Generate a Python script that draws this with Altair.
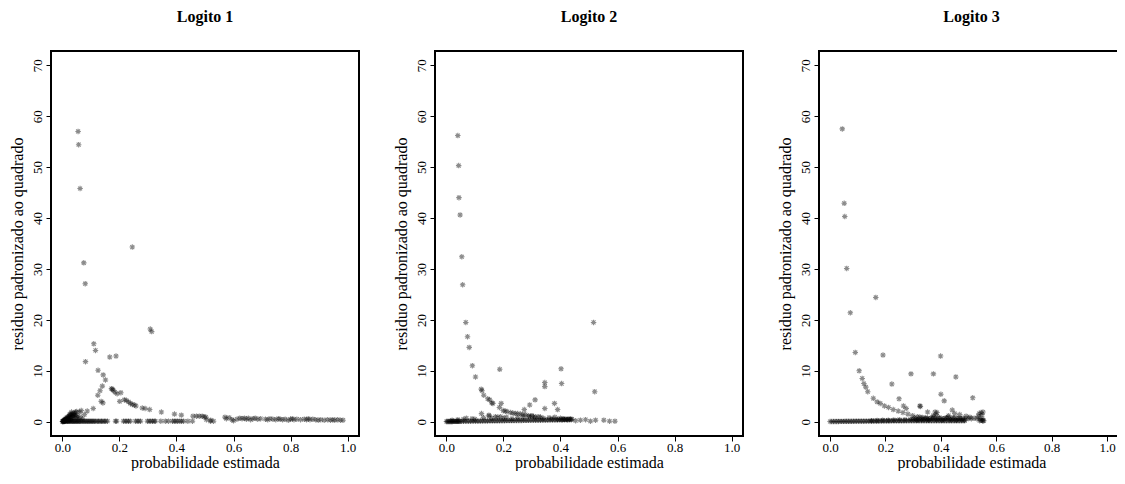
import altair as alt
import pandas as pd

# ---------------- Panel 1 (Logito 1) ----------------
p1_x = [
    # isolated large residuals
    0.055, 0.057, 0.062, 0.075, 0.080, 0.245, 0.308, 0.313,
    0.110, 0.116, 0.081, 0.166, 0.188, 0.125, 0.143, 0.151, 0.140, 0.132, 0.124, 0.136, 0.142,
    # descending curve
    0.172, 0.175, 0.178, 0.184, 0.192, 0.205, 0.201, 0.217, 0.224, 0.232, 0.238, 0.245, 0.252, 0.258,
    0.280, 0.290, 0.306, 0.347, 0.393, 0.417, 0.458, 0.470, 0.480, 0.490, 0.497, 0.503, 0.505, 0.520,
    # fan near origin
    0.108, 0.087, 0.077, 0.066, 0.060, 0.050, 0.046, 0.042, 0.038, 0.034, 0.030, 0.027, 0.024, 0.021,
    0.018, 0.015, 0.012, 0.010, 0.008, 0.006, 0.004, 0.002, 0.035, 0.028, 0.020, 0.045, 0.052, 0.040,
    0.030, 0.025, 0.015, 0.010, 0.005, 0.055, 0.048, 0.032, 0.026, 0.062, 0.070, 0.008, 0.001, 0.003,
    0.013, 0.017, 0.022, 0.037, 0.043, 0.011, 0.019, 0.033,
    # zero line
    0.000, 0.003, 0.006, 0.009, 0.012, 0.015, 0.018, 0.021, 0.024, 0.027, 0.030, 0.033, 0.036, 0.039,
    0.042, 0.045, 0.048, 0.051, 0.054, 0.057, 0.060, 0.064, 0.068, 0.072, 0.076, 0.080, 0.084, 0.088,
    0.092, 0.096, 0.100, 0.104, 0.108, 0.112, 0.117, 0.122, 0.127, 0.132, 0.137, 0.142, 0.147, 0.152,
    0.158, 0.186, 0.190, 0.214, 0.220, 0.226, 0.232, 0.238, 0.256, 0.262, 0.268, 0.274, 0.298, 0.304,
    0.310, 0.316, 0.322, 0.326, 0.345, 0.361, 0.372, 0.386, 0.392, 0.398, 0.404, 0.412, 0.418, 0.425,
    0.440, 0.456, 0.519, 0.530,
    # right cluster
    0.570, 0.575, 0.585, 0.595, 0.600, 0.612, 0.622, 0.630, 0.638, 0.645, 0.652, 0.660, 0.668, 0.676,
    0.685, 0.695, 0.712, 0.720, 0.728, 0.738, 0.748, 0.757, 0.763, 0.772, 0.781, 0.792, 0.800, 0.806,
    0.812, 0.822, 0.835, 0.848, 0.856, 0.862, 0.868, 0.878, 0.888, 0.897, 0.906, 0.918, 0.930, 0.940,
    0.948, 0.955, 0.965, 0.975, 0.984,
]
p1_y = [
    57.0, 54.4, 45.8, 31.2, 27.1, 34.3, 18.2, 17.7,
    15.3, 14.0, 11.8, 12.7, 12.9, 10.1, 9.2, 8.2, 7.0, 6.1, 5.2, 4.0, 3.7,
    6.5, 6.4, 6.2, 5.8, 5.5, 5.7, 4.0, 4.3, 4.2, 3.9, 3.6, 3.4, 3.3, 3.1,
    2.7, 2.6, 2.4, 1.9, 1.5, 1.3, 1.1, 1.1, 1.1, 1.1, 1.0, 0.9, 0.4, 0.3,
    2.6, 2.1, 1.4, 2.2, 1.9, 2.0, 1.9, 1.7, 1.6, 1.5, 1.4, 1.3, 1.1, 1.0,
    0.9, 0.8, 0.6, 0.5, 0.4, 0.3, 0.2, 0.1, 1.0, 0.8, 0.6, 1.2, 1.1, 0.7,
    0.5, 0.3, 0.3, 0.2, 0.1, 0.6, 0.9, 1.9, 1.5, 0.9, 0.6, 0.1, 0.05, 0.05,
    0.4, 0.5, 0.7, 1.2, 1.4, 0.3, 0.2, 0.8,
    0.05, 0.08, 0.06, 0.1, 0.08, 0.1, 0.07, 0.1, 0.09, 0.1, 0.08, 0.1, 0.09, 0.1,
    0.08, 0.1, 0.09, 0.1, 0.08, 0.1, 0.09, 0.1, 0.08, 0.1, 0.09, 0.1, 0.08, 0.1,
    0.09, 0.1, 0.08, 0.1, 0.09, 0.1, 0.08, 0.1, 0.09, 0.1, 0.08, 0.1, 0.09, 0.1,
    0.1, 0.1, 0.1, 0.1, 0.1, 0.1, 0.1, 0.1, 0.1, 0.1, 0.1, 0.1, 0.1, 0.1,
    0.1, 0.1, 0.1, 0.1, 0.1, 0.1, 0.1, 0.1, 0.1, 0.1, 0.1, 0.1, 0.1, 0.1,
    0.1, 0.1, 0.1, 0.1,
    0.9, 0.6, 0.8, 0.4, 0.2, 0.5, 0.7, 0.6, 0.7, 0.5, 0.7, 0.4, 0.6, 0.7,
    0.5, 0.6, 0.5, 0.4, 0.6, 0.5, 0.4, 0.6, 0.5, 0.4, 0.5, 0.3, 0.5, 0.6,
    0.4, 0.5, 0.4, 0.5, 0.4, 0.6, 0.4, 0.5, 0.4, 0.3, 0.4, 0.3, 0.4, 0.3,
    0.4, 0.3, 0.4, 0.3, 0.3,
]

# ---------------- Panel 2 (Logito 2) ----------------
p2_x = [
    0.040, 0.043, 0.044, 0.048, 0.054, 0.057, 0.068, 0.074, 0.080, 0.091, 0.102,
    0.187, 0.402, 0.404, 0.345, 0.345, 0.516, 0.520,
    # descending curve
    0.122, 0.125, 0.131, 0.145, 0.152, 0.159, 0.163, 0.186, 0.199, 0.206, 0.213, 0.225, 0.233,
    0.242, 0.250, 0.260, 0.268, 0.277, 0.288, 0.300, 0.312, 0.324,
    # scattered mid points
    0.192, 0.273, 0.292, 0.311, 0.345, 0.379, 0.390, 0.123, 0.149, 0.172,
    # upper band
    0.020, 0.040, 0.060, 0.070, 0.090, 0.100, 0.130, 0.150, 0.160, 0.180, 0.190, 0.200, 0.210,
    0.230, 0.250, 0.270, 0.290, 0.300, 0.310, 0.330, 0.340, 0.360, 0.370, 0.380, 0.390, 0.400,
    0.410, 0.420, 0.430, 0.440, 0.405, 0.415, 0.425, 0.435,
    # tail
    0.453, 0.470, 0.488, 0.505, 0.523, 0.552, 0.572, 0.591,
    # base line
    0.000, 0.006, 0.012, 0.018, 0.024, 0.030, 0.036, 0.042, 0.048, 0.054, 0.060, 0.066, 0.072,
    0.078, 0.084, 0.090, 0.096, 0.102, 0.108, 0.114, 0.120, 0.126, 0.132, 0.138, 0.144, 0.150,
    0.156, 0.162, 0.168, 0.174, 0.180, 0.186, 0.192, 0.198, 0.204, 0.210, 0.216, 0.222, 0.228,
    0.234, 0.240, 0.246, 0.252, 0.258, 0.264, 0.270, 0.276, 0.282, 0.288, 0.294, 0.300, 0.306,
    0.312, 0.318, 0.324, 0.330, 0.336, 0.342, 0.348, 0.354, 0.360, 0.366, 0.372, 0.378, 0.384,
    0.390, 0.396, 0.402, 0.408, 0.414, 0.420, 0.426, 0.432, 0.438, 0.003, 0.009, 0.015, 0.021,
    0.027, 0.033, 0.039, 0.045,
]
p2_y = [
    56.2, 50.3, 44.0, 40.6, 32.4, 26.9, 19.5, 16.7, 14.6, 11.0, 8.8,
    10.3, 10.4, 7.5, 7.7, 6.9, 19.5, 5.9,
    6.4, 6.1, 5.2, 4.5, 4.3, 3.7, 3.6, 2.8, 2.2, 2.1, 2.0, 1.8, 1.7,
    1.6, 1.6, 1.5, 1.4, 1.4, 1.2, 1.1, 1.0, 1.0,
    3.6, 2.4, 3.3, 4.3, 2.6, 3.6, 2.4, 1.6, 1.3, 1.0,
    0.3, 0.4, 0.5, 0.7, 0.6, 0.5, 0.8, 1.1, 0.7, 0.9, 1.0, 0.7, 0.9,
    0.6, 0.8, 0.9, 1.0, 1.2, 0.8, 0.9, 0.7, 0.8, 0.6, 0.9, 0.5, 0.7,
    0.6, 0.5, 0.6, 0.5, 0.4, 0.5, 0.4, 0.5,
    0.2, 0.3, 0.4, 0.1, 0.3, 0.3, 0.1, 0.1,
    0.05, 0.05, 0.06, 0.06, 0.07, 0.07, 0.08, 0.08, 0.09, 0.09, 0.1, 0.1, 0.1,
    0.11, 0.11, 0.12, 0.12, 0.13, 0.13, 0.14, 0.14, 0.15, 0.15, 0.16, 0.16, 0.17,
    0.17, 0.18, 0.18, 0.19, 0.19, 0.2, 0.2, 0.21, 0.21, 0.22, 0.22, 0.23, 0.23,
    0.24, 0.24, 0.25, 0.25, 0.26, 0.26, 0.27, 0.27, 0.28, 0.28, 0.29, 0.29, 0.3,
    0.3, 0.3, 0.31, 0.31, 0.32, 0.32, 0.33, 0.33, 0.34, 0.34, 0.35, 0.35, 0.36,
    0.36, 0.37, 0.37, 0.38, 0.38, 0.39, 0.39, 0.4, 0.4, 0.05, 0.05, 0.06, 0.06,
    0.07, 0.07, 0.08, 0.08,
]

# ---------------- Panel 3 (Logito 3) ----------------
p3_x = [
    0.044, 0.051, 0.053, 0.060, 0.073, 0.165, 0.091, 0.191, 0.399, 0.292, 0.373, 0.454,
    0.223, 0.400, 0.412, 0.249, 0.515, 0.265, 0.275, 0.324, 0.326,
    # descending curve
    0.105, 0.116, 0.122, 0.129, 0.136, 0.156, 0.170, 0.181, 0.196, 0.211, 0.228, 0.246, 0.263,
    0.281, 0.298, 0.316, 0.333, 0.351,
    # points around 1-2
    0.352, 0.379, 0.383, 0.441, 0.450, 0.468, 0.491, 0.538, 0.545, 0.552, 0.535, 0.372, 0.386,
    0.428, 0.505, 0.548,
    # upper band
    0.150, 0.170, 0.190, 0.210, 0.230, 0.250, 0.270, 0.290, 0.300, 0.310, 0.320, 0.330, 0.340,
    0.350, 0.360, 0.370, 0.380, 0.390, 0.400, 0.410, 0.420, 0.430, 0.440, 0.450, 0.460, 0.470,
    0.480, 0.490, 0.500, 0.510, 0.520, 0.530, 0.540, 0.550,
    # dense block
    0.305, 0.315, 0.325, 0.335, 0.345, 0.355, 0.365, 0.375, 0.385, 0.395, 0.405, 0.415, 0.425,
    0.435, 0.445, 0.455, 0.465, 0.475, 0.485, 0.545, 0.552,
    # base line
    0.000, 0.006, 0.012, 0.018, 0.024, 0.030, 0.036, 0.042, 0.048, 0.054, 0.060, 0.066, 0.072,
    0.078, 0.084, 0.090, 0.096, 0.102, 0.108, 0.114, 0.120, 0.126, 0.132, 0.138, 0.144, 0.150,
    0.156, 0.162, 0.168, 0.174, 0.180, 0.186, 0.192, 0.198, 0.204, 0.210, 0.216, 0.222, 0.228,
    0.234, 0.240, 0.246, 0.252, 0.258, 0.264, 0.270, 0.276, 0.282, 0.288, 0.294, 0.300, 0.306,
    0.312, 0.318, 0.324, 0.330, 0.336, 0.342, 0.348, 0.354, 0.360, 0.366, 0.372, 0.378, 0.384,
    0.390, 0.396, 0.402, 0.408, 0.414, 0.420, 0.426, 0.432, 0.438, 0.444, 0.450, 0.456, 0.462,
    0.468, 0.474, 0.480, 0.486, 0.540, 0.550, 0.555,
]
p3_y = [
    57.5, 42.9, 40.3, 30.1, 21.4, 24.4, 13.6, 13.1, 12.9, 9.4, 9.4, 8.8,
    7.4, 5.4, 4.1, 4.5, 4.7, 3.1, 2.6, 3.1, 3.0,
    10.0, 8.5, 7.5, 6.8, 5.9, 4.6, 3.9, 3.6, 3.1, 2.8, 2.4, 2.1, 1.8,
    1.5, 1.2, 1.0, 0.85, 0.7,
    1.9, 1.9, 1.4, 2.3, 1.6, 1.4, 1.1, 1.6, 1.8, 1.9, 1.1, 1.2, 1.8,
    1.2, 0.9, 1.4,
    0.2, 0.25, 0.3, 0.3, 0.35, 0.4, 0.4, 0.45, 0.5, 0.5, 0.55, 0.5, 0.6,
    0.55, 0.6, 0.65, 0.6, 0.7, 0.65, 0.6, 0.7, 0.65, 0.6, 0.7, 0.65, 0.6,
    0.7, 0.6, 0.65, 0.6, 0.7, 0.6, 0.65, 0.6,
    0.8, 0.3, 0.9, 0.4, 0.8, 0.3, 0.7, 0.9, 0.4, 0.8, 0.3, 0.7, 0.9,
    0.4, 0.8, 0.3, 0.7, 0.5, 0.3, 0.3, 0.2,
    0.05, 0.05, 0.05, 0.06, 0.06, 0.06, 0.07, 0.07, 0.07, 0.08, 0.08, 0.08, 0.09,
    0.09, 0.09, 0.1, 0.1, 0.1, 0.1, 0.11, 0.11, 0.11, 0.12, 0.12, 0.12, 0.13,
    0.13, 0.13, 0.14, 0.14, 0.14, 0.15, 0.15, 0.15, 0.16, 0.16, 0.16, 0.17, 0.17,
    0.17, 0.18, 0.18, 0.18, 0.19, 0.19, 0.19, 0.2, 0.2, 0.2, 0.2, 0.2, 0.2,
    0.2, 0.2, 0.2, 0.2, 0.2, 0.2, 0.2, 0.2, 0.2, 0.2, 0.2, 0.2, 0.2,
    0.2, 0.2, 0.2, 0.2, 0.2, 0.2, 0.2, 0.2, 0.2, 0.2, 0.2, 0.2, 0.2,
    0.2, 0.2, 0.2, 0.2, 0.2, 0.2, 0.2,
]

titles = ["Logito 1", "Logito 2", "Logito 3"]
x_ticks = [0.0, 0.2, 0.4, 0.6, 0.8, 1.0]
y_ticks = [0, 10, 20, 30, 40, 50, 60, 70]

STAR = "M-1,0L1,0M0,-1L0,1M-0.72,-0.72L0.72,0.72M-0.72,0.72L0.72,-0.72"


def panel(xs, ys, title, width, xmax):
    df = pd.DataFrame({"x": xs, "y": ys})
    return alt.Chart(
        df,
        title=alt.TitleParams(title, anchor="middle", offset=13, baseline="alphabetic"),
    ).mark_point(
        shape=STAR, filled=False, color="black", opacity=0.45, size=30, strokeWidth=1.1
    ).encode(
        x=alt.X(
            "x:Q",
            scale=alt.Scale(domain=[-0.04, xmax], nice=False, zero=False),
            axis=alt.Axis(values=x_ticks, format=".1f", title="probabilidade estimada",
                          labelPadding=0, titlePadding=0),
        ),
        y=alt.Y(
            "y:Q",
            scale=alt.Scale(domain=[-2.8, 72.8], nice=False, zero=False),
            axis=alt.Axis(values=y_ticks, format="d", title="residuo padronizado ao quadrado",
                          labelAngle=-90, labelAlign="center", labelBaseline="bottom",
                          labelPadding=2, titlePadding=6),
        ),
    ).properties(width=width, height=385)


charts = [
    panel(p1_x, p1_y, titles[0], 308, 1.04),
    panel(p2_x, p2_y, titles[1], 308, 1.04),
    panel(p3_x, p3_y, titles[2], 305, 1.061),
]

chart = alt.hconcat(*charts, spacing=76, bounds="flush").properties(
    padding={"left": 0, "top": 0, "right": -8, "bottom": 0}
).configure_view(
    stroke="black", strokeWidth=2
).configure_axis(
    grid=False, domain=False, ticks=True, tickColor="black", tickSize=5, tickWidth=1,
    labelFont="Liberation Serif", labelFontSize=13, labelColor="black",
    titleFont="Liberation Serif", titleFontSize=16, titleFontWeight="normal", titleColor="black",
).configure_title(
    font="Liberation Serif", fontSize=16, fontWeight="bold", color="black"
)

chart.save("out.html", embed_options={"renderer": "svg", "actions": False})
